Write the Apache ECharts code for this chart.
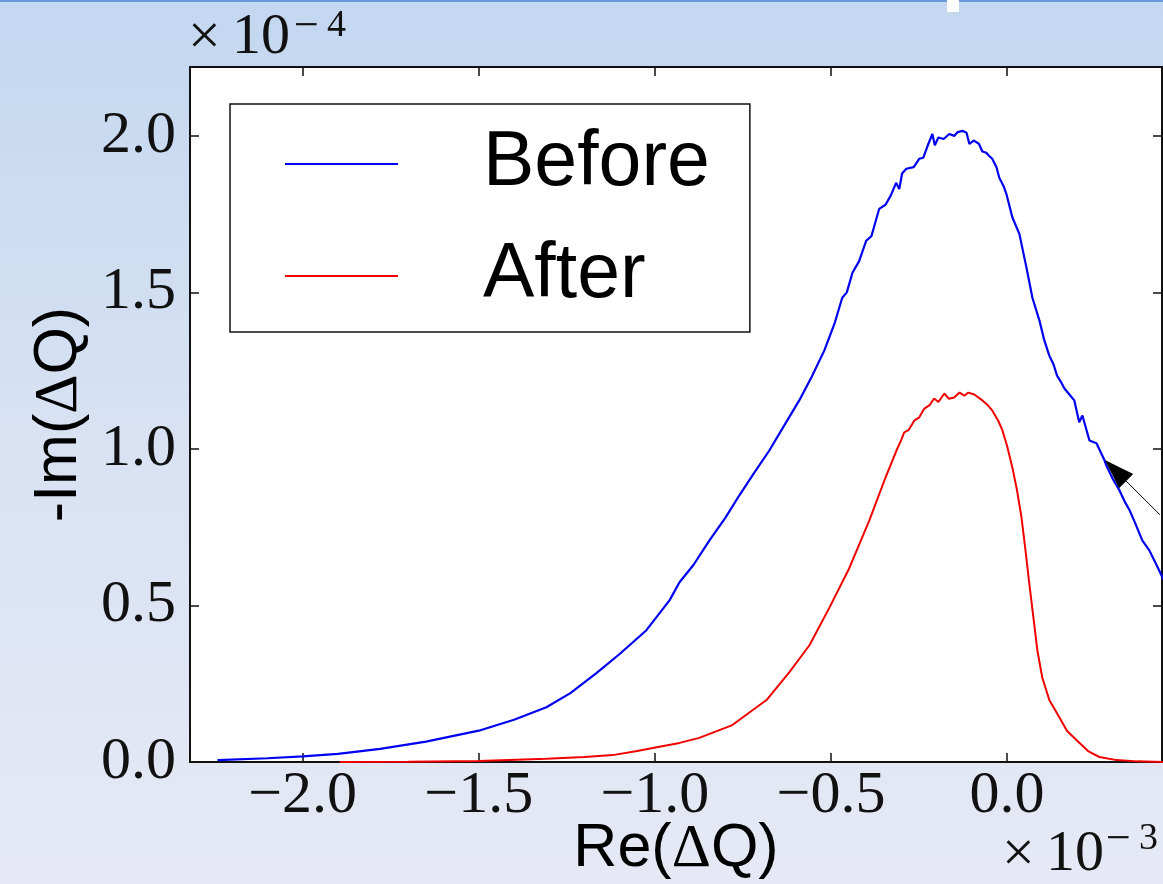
<!DOCTYPE html>
<html>
<head>
<meta charset="utf-8">
<script src="https://cdn.jsdelivr.net/npm/echarts@6/dist/echarts.min.js"></script>
<style>
  html, body { margin: 0; padding: 0; overflow: hidden; }
  #chart { width: 1163px; height: 884px; }
</style>
</head>
<body>
<div id="chart"></div>
<script>
// Re(ΔQ) in units of 1e-3, -Im(ΔQ) in units of 1e-4
const beforeRe = [-2.242, -2.10, -2.00, -1.90, -1.78, -1.65, -1.50, -1.40, -1.308, -1.24, -1.166, -1.10, -1.024, -0.958, -0.93, -0.89,
  -0.845, -0.80, -0.76, -0.72, -0.675, -0.63, -0.59, -0.555, -0.519, -0.49, -0.468, -0.455, -0.439, -0.42, -0.40, -0.385,
  -0.363, -0.345, -0.33, -0.315, -0.306, -0.298, -0.286, -0.265, -0.249, -0.238, -0.225, -0.212, -0.205, -0.195, -0.18,
  -0.164, -0.15, -0.14, -0.127, -0.115, -0.107, -0.095, -0.08, -0.07, -0.059, -0.05, -0.042, -0.03, -0.022, -0.01, -0.002,
  0.015, 0.035, 0.055, 0.072, 0.092, 0.105, 0.12, 0.132, 0.142, 0.155, 0.163, 0.18, 0.191, 0.205, 0.214, 0.234, 0.254,
  0.277, 0.282, 0.30, 0.319, 0.335, 0.348, 0.365, 0.384, 0.404, 0.42, 0.441, 0.47];
const beforeIm = [0.006, 0.012, 0.018, 0.026, 0.042, 0.065, 0.100, 0.135, 0.175, 0.220, 0.284, 0.345, 0.421, 0.517, 0.574, 0.630,
  0.708, 0.780, 0.852, 0.920, 0.995, 1.080, 1.155, 1.230, 1.314, 1.400, 1.483, 1.500, 1.563, 1.600, 1.665, 1.680,
  1.767, 1.780, 1.810, 1.850, 1.830, 1.880, 1.895, 1.900, 1.927, 1.930, 1.970, 2.006, 1.970, 1.995, 1.990,
  2.006, 2.000, 2.012, 2.016, 2.010, 1.974, 1.985, 1.975, 1.950, 1.946, 1.935, 1.927, 1.900, 1.866, 1.840, 1.815,
  1.740, 1.687, 1.580, 1.483, 1.410, 1.350, 1.298, 1.270, 1.234, 1.210, 1.193, 1.170, 1.155, 1.085, 1.107, 1.027, 1.018,
  0.963, 0.947, 0.905, 0.868, 0.830, 0.804, 0.760, 0.708, 0.676, 0.640, 0.590, 0.530];

const afterRe = [-1.895, -1.70, -1.50, -1.308, -1.20, -1.12, -1.05, -1.006, -0.93, -0.874, -0.78, -0.683, -0.618, -0.561, -0.504,
  -0.448, -0.391, -0.348, -0.314, -0.30, -0.292, -0.28, -0.263, -0.25, -0.235, -0.22, -0.207, -0.195, -0.178, -0.165, -0.15,
  -0.135, -0.121, -0.11, -0.093, -0.07, -0.055, -0.042, -0.025, -0.013, 0.0, 0.015, 0.028, 0.041, 0.052, 0.063, 0.075, 0.086,
  0.10, 0.12, 0.148, 0.17, 0.197, 0.23, 0.262, 0.311, 0.37, 0.45];
const afterIm = [0.000, 0.001, 0.003, 0.010, 0.016, 0.022, 0.035, 0.045, 0.061, 0.077, 0.118, 0.198, 0.287, 0.373, 0.494,
  0.619, 0.772, 0.900, 0.995, 1.030, 1.053, 1.060, 1.091, 1.100, 1.129, 1.140, 1.161, 1.150, 1.177, 1.160, 1.164,
  1.180, 1.170, 1.180, 1.174, 1.155, 1.140, 1.123, 1.090, 1.059, 1.010, 0.941, 0.870, 0.781, 0.680, 0.571, 0.460, 0.357,
  0.270, 0.198, 0.144, 0.100, 0.070, 0.035, 0.016, 0.006, 0.002, 0.000];

const seriesNames = ['Before', 'After'];
const xTicks = [-2.0, -1.5, -1.0, -0.5, 0.0];
const yTicks = [0.0, 0.5, 1.0, 1.5, 2.0];
const xRange = [-2.32, 0.44];
const yRange = [0, 2.22];
// annotation arrow: tail and arrow-head centre, in data units
const arrowTail = [0.434, 0.79];
const arrowHead = [0.308, 0.931];

const zip = (a, b) => a.map((v, i) => [v, b[i]]);
const fmt = v => (v < 0 ? '\u2212' : '') + Math.abs(v).toFixed(1);

const serif = 'Liberation Serif';
const sans = 'Liberation Sans';
const ink = '#111';

const tickStyle = { show: true, inside: true, length: 9, lineStyle: { color: ink, width: 1.5 } };
const hiddenLine = { show: false, onZero: false };

const chart = echarts.init(document.getElementById('chart'), null, { renderer: 'canvas' });

function txt(x, y, s, size) {
  return { type: 'text', x: x, y: y, silent: true,
    style: { text: s, font: size + 'px "' + serif + '"', fill: ink, verticalAlign: 'middle' } };
}

chart.setOption({
  animation: false,
  backgroundColor: new echarts.graphic.LinearGradient(0, 0, 0, 1, [
    { offset: 0, color: '#c3d7f0' },
    { offset: 0.5, color: '#d8e2f3' },
    { offset: 1, color: '#e6e9f5' }
  ]),
  grid: {
    left: 190, top: 67, right: 1, bottom: 122,
    outerBoundsMode: 'none', containLabel: false,
    show: true, backgroundColor: '#ffffff', borderColor: ink, borderWidth: 2
  },
  legend: {
    orient: 'vertical',
    left: 230, top: 104,
    data: seriesNames,
    selectedMode: false,
    icon: 'path://M0,0H113V2H0Z',
    backgroundColor: '#ffffff',
    borderColor: ink, borderWidth: 1.5, borderRadius: 0,
    padding: [20, 40, 16, 55],
    itemWidth: 113, itemHeight: 2, itemGap: 32,
    textStyle: { fontFamily: sans, fontSize: 77, color: '#000', lineHeight: 80, padding: [0, 0, 0, 80] }
  },
  xAxis: [{
    type: 'value', min: xRange[0], max: xRange[1], position: 'bottom',
    axisLine: hiddenLine, splitLine: { show: false },
    axisTick: Object.assign({ customValues: xTicks }, tickStyle),
    axisLabel: { customValues: xTicks, formatter: fmt, fontFamily: serif, fontSize: 60, lineHeight: 60, color: ink, margin: 4 },
    name: 'Re({d|Δ}Q)', nameLocation: 'middle', nameGap: 57, nameMoveOverlap: false,
    nameTextStyle: { fontFamily: sans, fontSize: 61, color: '#000', rich: { d: { fontFamily: serif, fontSize: 61, color: '#000' } } }
  }, {
    type: 'value', min: xRange[0], max: xRange[1], position: 'top',
    axisLine: hiddenLine, splitLine: { show: false },
    axisTick: Object.assign({ customValues: xTicks }, tickStyle),
    axisLabel: { show: false }
  }],
  yAxis: [{
    type: 'value', min: yRange[0], max: yRange[1], position: 'left',
    axisLine: hiddenLine, splitLine: { show: false },
    axisTick: Object.assign({ customValues: yTicks }, tickStyle),
    axisLabel: { customValues: yTicks, formatter: fmt, fontFamily: serif, fontSize: 60, color: ink, margin: 14 },
    name: '-Im({d|Δ}Q)', nameLocation: 'middle', nameGap: 100, nameRotate: 90, nameMoveOverlap: false,
    nameTextStyle: { fontFamily: sans, fontSize: 61, color: '#000', rich: { d: { fontFamily: serif, fontSize: 61, color: '#000' } } }
  }, {
    type: 'value', min: yRange[0], max: yRange[1], position: 'right',
    axisLine: hiddenLine, splitLine: { show: false },
    axisTick: Object.assign({ customValues: yTicks }, tickStyle),
    axisLabel: { show: false }
  }],
  series: [{
    name: seriesNames[0], type: 'line', data: zip(beforeRe, beforeIm),
    symbol: 'none', showSymbol: false, clip: true,
    lineStyle: { color: '#0000f0', width: 2.2 }, itemStyle: { color: '#0000f0' },
    markLine: {
      silent: true, animation: false,
      symbol: ['none', 'triangle'], symbolSize: [20, 30],
      lineStyle: { color: '#000', width: 1, type: 'solid' },
      itemStyle: { color: '#000' },
      label: { show: false },
      data: [[{ coord: arrowTail }, { coord: arrowHead }]]
    }
  }, {
    name: seriesNames[1], type: 'line', data: zip(afterRe, afterIm),
    symbol: 'none', showSymbol: false, clip: true,
    lineStyle: { color: '#f00000', width: 2 }, itemStyle: { color: '#f00000' }
  }],
  graphic: [
    // slide frame details
    { type: 'rect', shape: { x: 0, y: 0, width: 1163, height: 2 }, style: { fill: '#6b98d6' }, silent: true },
    { type: 'rect', shape: { x: 947, y: 0, width: 12, height: 12 }, style: { fill: '#ffffff' }, silent: true },
    // axis scale factors
    txt(188, 39, '\u00d7', 58), txt(232, 38, '10', 58), txt(294, 27, '\u2212', 44), txt(327, 26, '4', 38),
    txt(1002, 856, '\u00d7', 58), txt(1046, 855, '10', 58), txt(1106, 840, '\u2212', 44), txt(1139, 839, '3', 38)
  ]
});
</script>
</body>
</html>
